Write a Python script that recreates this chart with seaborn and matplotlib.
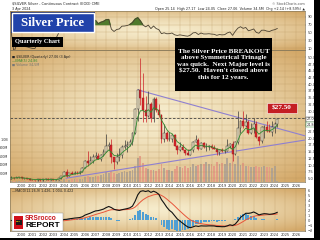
import numpy as np
import pandas as pd
import matplotlib
matplotlib.use("Agg")
import matplotlib.pyplot as plt
from matplotlib.patches import Rectangle
from matplotlib.ticker import MultipleLocator
import seaborn as sns

sns.set_theme(style="white")
plt.rcParams['font.family'] = ['DejaVu Sans']

# ---------------- data (quarterly, 1999Q1 .. 2024Q2) ----------------
open_ = [4.95, 5.20, 5.10, 5.40, 5.40, 5.00, 5.00, 4.90, 4.60, 4.35, 4.30, 4.65,
         4.60, 4.65, 4.90, 4.50, 4.80, 4.45, 4.55, 5.15, 5.95, 7.50, 5.90, 6.90,
         6.80, 7.15, 7.10, 7.40, 8.90, 11.60, 10.90, 11.60, 12.90, 13.40, 12.40, 13.80,
         14.80, 17.20, 17.50, 12.90, 11.30, 13.10, 13.60, 16.70, 16.90, 17.50, 18.70, 21.80,
         30.90, 37.90, 34.90, 30.40, 28.20, 32.50, 27.60, 34.60, 30.30, 28.40, 19.80, 21.80,
         19.50, 19.70, 21.00, 17.10, 15.60, 16.60, 15.60, 14.50, 13.80, 15.40, 18.70, 19.20,
         15.90, 18.20, 16.60, 16.60, 16.90, 16.40, 16.10, 14.70, 15.50, 15.10, 15.30, 17.00,
         17.90, 14.10, 18.70, 23.60, 26.40, 24.50, 26.10, 22.00, 23.30, 25.10, 20.30, 19.00,
         24.00, 24.10, 22.80, 22.30, 24.10, 25.14]
high = [5.80, 5.40, 5.50, 5.70, 5.50, 5.20, 5.10, 5.00, 4.80, 4.50, 4.70, 4.70,
        4.70, 5.10, 5.00, 4.80, 4.90, 4.80, 5.30, 6.00, 7.60, 8.50, 7.20, 7.90,
        7.60, 7.60, 7.60, 9.20, 11.80, 15.20, 13.20, 14.20, 14.90, 14.50, 14.00, 15.90,
        21.40, 18.60, 19.50, 13.00, 14.60, 16.30, 17.50, 19.40, 18.90, 19.70, 22.20, 31.30,
        38.20, 49.80, 44.20, 35.70, 37.50, 33.40, 35.10, 35.40, 32.50, 28.90, 25.10, 22.70,
        22.20, 21.40, 21.60, 17.60, 18.50, 17.80, 15.80, 16.00, 16.00, 18.90, 21.20, 20.00,
        18.60, 18.70, 18.20, 17.30, 17.70, 17.40, 16.20, 15.60, 16.20, 15.50, 19.60, 18.20,
        18.90, 18.80, 29.90, 26.90, 30.10, 28.80, 26.90, 25.50, 27.50, 26.20, 20.60, 24.50,
        24.70, 26.40, 25.30, 26.20, 25.90, 27.17]
low = [4.90, 4.90, 5.00, 5.00, 4.90, 4.90, 4.80, 4.60, 4.30, 4.20, 4.10, 4.10,
       4.20, 4.60, 4.50, 4.40, 4.40, 4.40, 4.50, 4.80, 5.90, 5.50, 5.80, 6.50,
       6.50, 6.80, 6.80, 7.30, 8.80, 9.50, 10.60, 10.80, 12.10, 12.40, 11.60, 13.30,
       14.80, 15.60, 10.60, 8.40, 10.20, 11.60, 12.60, 15.90, 14.80, 17.00, 17.30, 21.50,
       26.40, 32.30, 26.10, 26.10, 27.90, 26.10, 26.10, 29.80, 28.00, 18.20, 18.70, 18.80,
       19.00, 18.60, 16.90, 14.20, 15.30, 15.50, 13.90, 13.60, 13.70, 14.80, 18.60, 15.60,
       15.90, 16.20, 15.20, 15.60, 16.10, 16.00, 13.90, 13.90, 14.80, 14.30, 15.10, 16.50,
       11.60, 13.90, 17.90, 21.90, 23.80, 24.20, 21.50, 21.50, 21.90, 20.10, 17.60, 18.10,
       19.90, 22.10, 22.10, 20.70, 21.90, 24.05]
close = [5.20, 5.10, 5.40, 5.40, 5.00, 5.00, 4.90, 4.60, 4.35, 4.30, 4.65, 4.60,
         4.65, 4.90, 4.50, 4.80, 4.45, 4.55, 5.15, 5.95, 7.50, 5.90, 6.90, 6.80,
         7.15, 7.10, 7.40, 8.90, 11.60, 10.90, 11.60, 12.90, 13.40, 12.40, 13.80, 14.80,
         17.20, 17.50, 12.90, 11.30, 13.10, 13.60, 16.70, 16.90, 17.50, 18.70, 21.80, 30.90,
         37.90, 34.90, 30.40, 28.20, 32.50, 27.60, 34.60, 30.30, 28.40, 19.80, 21.80, 19.50,
         19.70, 21.00, 17.10, 15.60, 16.60, 15.60, 14.50, 13.80, 15.40, 18.70, 19.20, 15.90,
         18.20, 16.60, 16.60, 16.90, 16.40, 16.10, 14.70, 15.50, 15.10, 15.30, 17.00, 17.90,
         14.10, 18.70, 23.60, 26.40, 24.50, 26.10, 22.00, 23.30, 25.10, 20.30, 19.00, 24.00,
         24.10, 22.80, 22.30, 24.10, 25.10, 27.06]
volume_m = [15, 15, 15, 15, 12, 12, 12, 12, 12, 12, 12, 12,
            14, 14, 15, 15, 18, 20, 25, 30, 60, 70, 55, 60,
            65, 60, 65, 80, 120, 150, 110, 120, 140, 150, 160, 180,
            230, 210, 260, 200, 180, 210, 230, 270, 240, 260, 280, 380,
            560, 600, 450, 330, 300, 280, 290, 270, 300, 420, 330, 290,
            280, 270, 300, 380, 360, 340, 380, 330, 360, 420, 380, 400,
            430, 420, 460, 420, 420, 380, 470, 430, 450, 430, 560, 450,
            690, 420, 600, 400, 440, 380, 370, 350, 360, 370, 350, 360,
            380, 360, 350, 340, 370, 35]
year_ticks = list(range(2000, 2027))
upper_trend_x = [2011.0, 2026.9]
upper_trend_y = [37.9, 20.8]
lower_trend_x = [2004.2, 2026.9]
lower_trend_y = [5.1, 19.3]
breakout_level = 27.5
price_ticks = [5.0 + 2.5 * i for i in range(19)]
price_box_values = [27.06, 24.86]
vol_ticks = [2e8, 4e8, 6e8, 8e8, 1e9]
vol_labels = ['200M', '400M', '600M', '800M', '1.0B']
rsi_ticks = [10, 30, 50, 70, 90]

quarters = pd.period_range("1999Q1", "2024Q2", freq="Q")
x = np.asarray(quarters.year + (quarters.quarter - 1) / 4.0, dtype=float)
o = np.array(open_); h = np.array(high); l = np.array(low); c = np.array(close)
vol = np.array(volume_m) * 1e6
cs = pd.Series(c)

# indicators derived from the closes
ema5 = cs.ewm(span=5, adjust=False).mean()
ema12 = cs.ewm(span=12, adjust=False).mean()
ema26 = cs.ewm(span=26, adjust=False).mean()
macd = (ema12 - ema26).to_numpy()
signal = pd.Series(macd).ewm(span=9, adjust=False).mean().to_numpy()
hist = macd - signal
d = cs.diff()
gain = d.clip(lower=0).ewm(alpha=1/14, adjust=False).mean()
loss = (-d.clip(upper=0)).ewm(alpha=1/14, adjust=False).mean()
rsi = (100 - 100 / (1 + gain / loss.replace(0, np.nan))).fillna(50).to_numpy()

# ---------------- figure ----------------
W, H = 320, 240
fig = plt.figure(figsize=(3.2, 2.4), dpi=100, facecolor='white')

def fx(px):
    return px / W

def fy(py):
    return 1 - py / H

def rect(x0, y0, x1, y1):
    return [fx(x0), fy(y1), (x1 - x0) / W, (y1 - y0) / H]

XL = (1998.88, 2026.87)
r_rsi = rect(10, 11, 305, 50)
r_main = rect(10, 50, 305, 182)
r_macd = rect(10, 188, 305, 231)

def add_bg(r):
    bg = fig.add_axes(r, zorder=-5)
    hh, ww = 120, 240
    yy, xx = np.mgrid[-1:1:hh * 1j, -1:1:ww * 1j]
    rr = np.clip(np.sqrt(xx ** 2 + yy ** 2) / 1.35, 0, 1)
    t = rr ** 1.5
    c0 = np.array([0.965, 0.925, 0.80])
    c1 = np.array([0.83, 0.66, 0.41])
    img = c0 * (1 - t)[..., None] + c1 * t[..., None]
    bg.imshow(img, aspect='auto', extent=[0, 1, 0, 1], interpolation='bilinear')
    bg.set_axis_off()

for r in (r_rsi, r_main, r_macd):
    add_bg(r)

grid_col = (0.72, 0.58, 0.36)
spine_col = '#8a7a5a'

def style(ax, show_x=False):
    ax.set_facecolor('none')
    ax.set_xlim(*XL)
    ax.set_xticks(year_ticks)
    for yv in year_ticks:
        ax.axvline(yv, color=grid_col, lw=0.35, alpha=0.55, zorder=0)
    for s in ax.spines.values():
        s.set_color(spine_col)
        s.set_linewidth(0.5)
    ax.yaxis.tick_right()
    ax.tick_params(axis='y', labelsize=2.6, length=1, width=0.3, pad=1, colors='#333333')
    if show_x:
        ax.tick_params(axis='x', labelsize=2.6, length=0, pad=1.2, colors='#333333')
    else:
        ax.tick_params(axis='x', labelbottom=False, length=0)

# ---- RSI panel ----
ax_r = fig.add_axes(r_rsi)
style(ax_r)
ax_r.set_ylim(5.7, 104.4)
ax_r.set_yticks(rsi_ticks)
for yv in rsi_ticks:
    ax_r.axhline(yv, color=grid_col, lw=0.35, alpha=0.55, zorder=0)
ax_r.fill_between(x, rsi, 70, where=rsi > 70, interpolate=True, color='#4f7a2c', zorder=2)
sns.lineplot(x=x, y=rsi, ax=ax_r, color='#4a4030', lw=0.6, zorder=3)
ax_r.set_xlabel(''); ax_r.set_ylabel('')

# ---- main panel ----
ax = fig.add_axes(r_main)
ax_v = ax.twinx()
ax.set_zorder(ax_v.get_zorder() + 1)
style(ax, show_x=True)
ax.set_ylim(3.7, 52.7)
ax.set_yticks(price_ticks)
# the two boxed price tags cover the 27.5 and 25.0 labels, as in the reference
ax.set_yticklabels(["" if v in (25.0, 27.5) else f"{v:.1f}" for v in price_ticks])
for yv in price_ticks:
    ax.axhline(yv, color=grid_col, lw=0.35, alpha=0.55, zorder=0)

ax_v.set_xlim(*XL)
ax_v.set_ylim(0, 3.1e9)
ax_v.set_facecolor('none')
down_q = np.r_[False, c[1:] < c[:-1]]
ax_v.bar(x, vol, width=0.17, color=np.where(down_q, '#e59a86', '#aea295'), alpha=0.9, lw=0)
ax_v.yaxis.tick_left()
ax_v.set_yticks(vol_ticks)
ax_v.set_yticklabels(vol_labels)
ax_v.tick_params(axis='y', labelsize=2.4, length=0, pad=1, colors='#333333')
for s in ax_v.spines.values():
    s.set_visible(False)

up = c >= o
bb = np.minimum(o, c)
bh = np.maximum(np.abs(c - o), 0.12)
ax.vlines(x, l, h, colors=np.where(up, '#3a3a3a', '#cc2026'), lw=0.5, zorder=3)
ax.bar(x[~up], bh[~up], bottom=bb[~up], width=0.18, color='#d8262c', edgecolor='#a01418', lw=0.3, zorder=4)
ax.bar(x[up], bh[up], bottom=bb[up], width=0.18, facecolor='#f2e6c4', edgecolor='#3a3a3a', lw=0.35, zorder=4)
sns.lineplot(x=x, y=ema5.to_numpy(), ax=ax, color='#2f8a2f', lw=0.6, zorder=5)
ax.plot(upper_trend_x, upper_trend_y, color='#8f80d0', lw=0.8, zorder=2)
ax.plot(lower_trend_x, lower_trend_y, color='#8f80d0', lw=0.8, zorder=2)
ax.axhline(breakout_level, color='#444444', lw=0.6, ls=(0, (3, 2)), zorder=2)
ax.set_xlabel(''); ax.set_ylabel('')
ax.set_xticklabels([str(v) for v in year_ticks])
yr = ax.get_ylim()
for val, ec in zip(price_box_values, ['#333333', '#2f8a2f']):
    ax.text(1.006, (val - yr[0]) / (yr[1] - yr[0]), f"{val:.2f}", transform=ax.transAxes, fontsize=2.4,
            va='center', ha='left', bbox=dict(boxstyle='square,pad=0.15', fc='white', ec=ec, lw=0.3),
            zorder=6, clip_on=False)

# ---- MACD panel ----
ax_m = fig.add_axes(r_macd)
style(ax_m, show_x=True)
ax_m.set_xticklabels([str(v) for v in year_ticks])
lo, hi = float(np.min(macd)), float(np.max(macd))
span = (hi - lo) / (1 - 0.063 - 0.077)
ax_m.set_ylim(lo - 0.077 * span, hi + 0.063 * span)
ax_m.yaxis.set_major_locator(MultipleLocator(1))
ax_m.bar(x, hist, width=0.18, color='#4f9fd3', lw=0, zorder=2)
sns.lineplot(x=x, y=signal, ax=ax_m, color='#e8553a', lw=0.7, zorder=3)
sns.lineplot(x=x, y=macd, ax=ax_m, color='#111111', lw=0.8, zorder=4)
ax_m.set_xlabel(''); ax_m.set_ylabel('')

# ---------------- header / annotations ----------------
fig.text(fx(12), fy(3.8), "$SILVER Silver - Continuous Contract (EOD) CME", fontsize=2.6, color='#222222', va='center')
fig.text(fx(12), fy(8.6), "3 Apr 2024", fontsize=2.4, color='#222222', va='center')
fig.text(fx(305), fy(3.8), "© StockCharts.com", fontsize=2.4, color='#555555', va='center', ha='right')
fig.text(fx(305), fy(8.6), "Open 25.14  High 27.17  Low 24.05  Close 27.06  Volume 34.5M  Chg +2.14 (+8.59%) ▲",
         fontsize=2.4, color='#222222', va='center', ha='right')
fig.text(fx(12), fy(57), "■ $SILVER (Quarterly) 27.06 (3 Apr)", fontsize=2.3, color='#222222', va='center')
fig.text(fx(12), fy(61), "—EMA(5) 24.86", fontsize=2.3, color='#2f8a2f', va='center')
fig.text(fx(12), fy(65), "■ Volume 34,5M", fontsize=2.3, color='#777777', va='center')
fig.text(fx(12), fy(191.5), "—MACD(12,26,9) 1.426, 1.004, 0.422", fontsize=2.3, color='#222222', va='center')

serif = dict(family='Liberation Serif', weight='bold', color='white')

def box(x0, y0, x1, y1, fc, ec=None, lw=0.0, z=10):
    p = Rectangle((fx(x0), fy(y1)), (x1 - x0) / W, (y1 - y0) / H, transform=fig.transFigure,
                  facecolor=fc, edgecolor=ec if ec else fc, linewidth=lw, zorder=z)
    fig.add_artist(p)

box(11, 12, 95, 33, '#1d2f6e', z=10)
box(12, 13, 94, 32, '#2143aa', ec='white', lw=1.0, z=11)
fig.text(fx(53), fy(22.5), "Silver Price", fontsize=9.2, zorder=12, ha='center', va='center', **serif)
box(12, 37, 63, 47, 'black', z=11)
fig.text(fx(37.5), fy(42), "Quarterly Chart", fontsize=4.6, zorder=12, ha='center', va='center', **serif)
box(175, 38, 272, 91, 'black', z=11)
fig.text(fx(223.5), fy(64.3),
         "The Silver Price BREAKOUT\nabove Symmetrical Trinagle\nwas quick.  Next Major level is\n$27.50.  Haven't closed above\nthis for 12 years.",
         fontsize=5.1, linespacing=1.36, zorder=12, ha='center', va='center', **serif)
box(267, 103, 297, 113, '#c41e24', ec='white', lw=0.4, z=11)
fig.text(fx(282), fy(108), "$27.50", fontsize=5.2, zorder=12, ha='center', va='center', **serif)

# logo
box(12, 213, 63, 231, 'white', ec='#888888', lw=0.3, z=11)
box(14, 215.5, 23, 228.5, '#d0101a', z=12)
box(15.5, 219.5, 21.5, 224.5, '#1a1a1a', z=13)
fig.text(fx(18.5), fy(222), "SRS", fontsize=1.6, color='#f2c200', weight='bold', zorder=14, ha='center', va='center')
fig.text(fx(25), fy(218.3), "SRSrocco", fontsize=4.8, color='#c8141c', family='Liberation Sans',
         weight='bold', zorder=12, va='center')
fig.text(fx(25), fy(225.8), "REPORT", fontsize=6.0, color='black', family='Liberation Sans',
         weight='bold', zorder=12, va='center')

# outer frame shadow
fig.add_artist(Rectangle((fx(314), 0), 6 / W, 1, transform=fig.transFigure, facecolor='black', lw=0, zorder=20))
fig.add_artist(Rectangle((0, 0), 1, 2 / H, transform=fig.transFigure, facecolor='black', lw=0, zorder=20))

fig.savefig("out.png", dpi=100, facecolor='white')
